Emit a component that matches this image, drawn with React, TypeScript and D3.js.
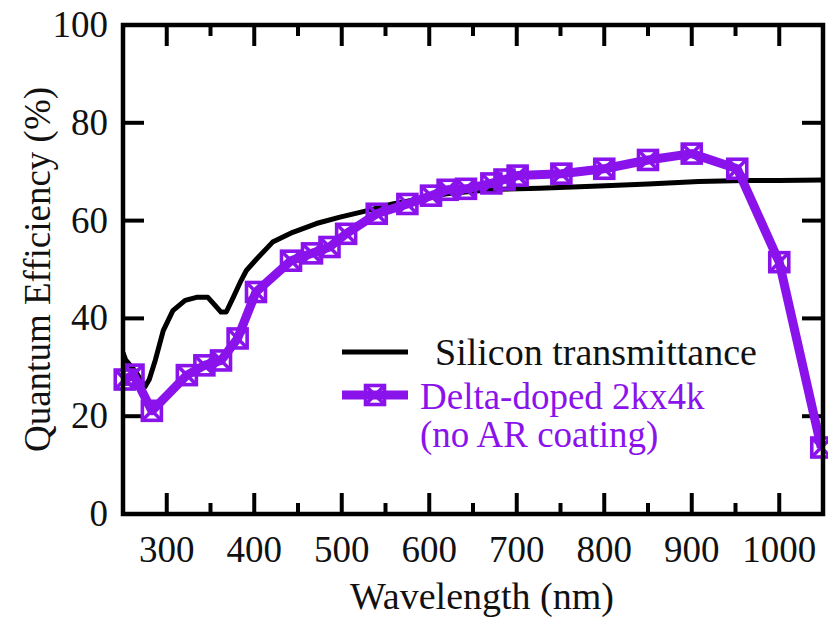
import React from "react";
import * as d3 from "d3";

const siWavelength = [250, 253, 265, 275, 280, 287, 296, 307, 321, 334, 347, 356, 362, 368, 376, 384, 391, 403, 421, 444, 471, 498, 528, 558, 590, 620, 650, 680, 726, 794, 850, 908, 960, 1000, 1050];
const siValue = [33, 31.5, 29, 26, 27.5, 31.5, 37.5, 41.6, 43.7, 44.3, 44.3, 42.5, 41.3, 41.3, 44.3, 47.4, 49.8, 52.2, 55.6, 57.6, 59.4, 60.7, 62, 63.4, 64.5, 65.5, 66, 66.4, 66.6, 67.1, 67.5, 68, 68.2, 68.2, 68.3];

const qeWavelength = [252, 262, 283, 323, 343, 362, 381, 402, 442, 466, 486, 505, 540, 575, 602, 621, 642, 671, 686, 701, 751, 800, 850, 900, 952, 1000, 1048];
const qeValue = [27.5, 28.5, 21.1, 28.4, 30.4, 31.4, 35.9, 45.4, 51.8, 53.3, 54.6, 57.3, 61.4, 63.4, 65.1, 66.3, 66.5, 67.6, 68.4, 69.2, 69.6, 70.6, 72.4, 73.7, 70.6, 51.5, 13.6];

const xMajorTicks = [300, 400, 500, 600, 700, 800, 900, 1000];
const xMinorTicks = [350, 450, 550, 650, 750, 850, 950];
const yTicks = [0, 20, 40, 60, 80, 100];

const PURPLE = "#8a13ec";
const FONT = '"Liberation Serif", "Times New Roman", Tinos, serif';

function T(props: any) {
  const { children, ...rest } = props;
  return (
    <text {...rest} className="serif" style={{ fontFamily: FONT }}>
      {children}
    </text>
  );
}

function Marker({ cx, cy }: { cx: number; cy: number }) {
  const h = 9.5;
  return (
    <g stroke={PURPLE} strokeWidth={3.6} fill="none">
      <rect x={cx - h} y={cy - h} width={2 * h} height={2 * h} />
      <line x1={cx - h} y1={cy - h} x2={cx + h} y2={cy + h} />
      <line x1={cx + h} y1={cy - h} x2={cx - h} y2={cy + h} />
    </g>
  );
}

export default function App() {
  const W = 828, H = 621;
  const x = d3.scaleLinear().domain([250, 1050]).range([123, 823]);
  const y = d3.scaleLinear().domain([0, 100]).range([514, 25]);
  const si = siWavelength.map((w, i) => [w, siValue[i]] as [number, number]);
  const qe = qeWavelength.map((w, i) => [w, qeValue[i]] as [number, number]);
  const line = d3.line<[number, number]>().x(d => x(d[0])).y(d => y(d[1]));
  const [x0, x1] = x.range();
  const [yb, yt] = y.range();

  return (
    <svg id="qe-chart" width={W} height={H} style={{ position: "absolute", left: 0, top: 0, fontFamily: FONT }}>
      <style>{`#qe-chart text.serif { font-family: "Liberation Serif", "Times New Roman", serif !important; }`}</style>
      <rect width={W} height={H} fill="#fff" />
      <defs>
        <clipPath id="plot">
          <rect x={x0} y={yt} width={x1 - x0} height={yb - yt} />
        </clipPath>
      </defs>
      <g stroke="#000" strokeWidth={4}>
        {xMajorTicks.map(t => (
          <g key={"M" + t}>
            <line x1={x(t)} x2={x(t)} y1={yb} y2={yb - 21} />
            <line x1={x(t)} x2={x(t)} y1={yt} y2={yt + 21} />
          </g>
        ))}
        {xMinorTicks.map(t => (
          <g key={"m" + t}>
            <line x1={x(t)} x2={x(t)} y1={yb} y2={yb - 11} />
            <line x1={x(t)} x2={x(t)} y1={yt} y2={yt + 11} />
          </g>
        ))}
        {yTicks.slice(1, -1).map(t => (
          <g key={"y" + t}>
            <line x1={x0} x2={x0 + 21} y1={y(t)} y2={y(t)} />
            <line x1={x1} x2={x1 - 21} y1={y(t)} y2={y(t)} />
          </g>
        ))}
      </g>
      <g clipPath="url(#plot)">
        <path d={line(si) || ""} fill="none" stroke="#000" strokeWidth={5} strokeLinejoin="round" />
        <path d={line(qe) || ""} fill="none" stroke={PURPLE} strokeWidth={9} strokeLinejoin="round" />
      </g>
      {qe.map((d, i) => (
        <Marker key={i} cx={x(d[0])} cy={y(d[1])} />
      ))}
      <rect x={x0} y={yt} width={x1 - x0} height={yb - yt} fill="none" stroke="#000" strokeWidth={4.5} />
      {xMajorTicks.map(t => (
        <T key={"xl" + t} x={x(t)} y={562} textAnchor="middle" fontSize={37} fill="#111">{String(t)}</T>
      ))}
      {yTicks.map(t => (
        <T key={"yl" + t} x={108} y={y(t) + 12} textAnchor="end" fontSize={37} fill="#111">{String(t)}</T>
      ))}
      <T x={482} y={609} textAnchor="middle" fontSize={38} fill="#111">Wavelength (nm)</T>
      <T transform={`translate(50,${(yb + yt) / 2}) rotate(-90)`} textAnchor="middle" fontSize={37} fill="#111">Quantum Efficiency (%)</T>
      <line x1={342} x2={408} y1={352} y2={352} stroke="#000" strokeWidth={5} />
      <T x={435} y={365} fontSize={38} fill="#111">Silicon transmittance</T>
      <line x1={342} x2={408} y1={395} y2={395} stroke={PURPLE} strokeWidth={9} />
      <Marker cx={375} cy={395} />
      <T x={420} y={409} fontSize={37} fill={PURPLE}>Delta-doped 2kx4k</T>
      <T x={420} y={447} fontSize={37} fill={PURPLE}>(no AR coating)</T>
    </svg>
  );
}
